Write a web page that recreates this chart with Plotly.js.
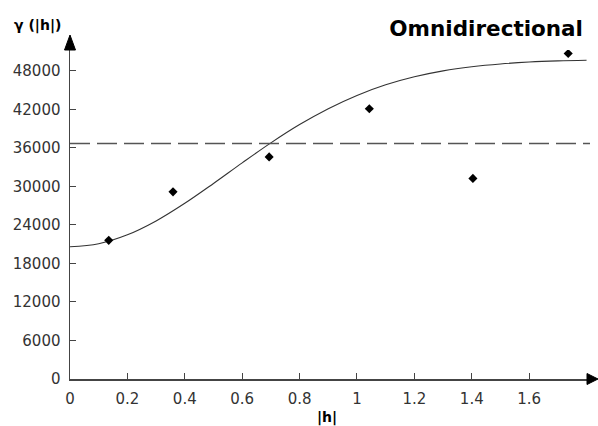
<!DOCTYPE html>
<html>
<head>
<meta charset="utf-8">
<script src="https://cdn.plot.ly/plotly-3.0.1.min.js"></script>
<style>html,body{margin:0;padding:0;background:#fff;}#chart{width:598px;height:426px;}</style>
</head>
<body>
<div id="chart"></div>
<script>
// Experimental semivariogram points (lag |h|, gamma)
const lagH = [0.135, 0.359, 0.694, 1.043, 1.404, 1.736];
const gammaVals = [21600, 29150, 34600, 42100, 31250, 50700];
// Fitted model curve
const modelH = [0, 0.1, 0.2, 0.3, 0.4, 0.5, 0.6, 0.7, 0.8, 0.9, 1.0, 1.1, 1.2, 1.3, 1.4, 1.5, 1.6, 1.7, 1.8];
const modelGamma = [20600, 21080, 22460, 24620, 27370, 30460, 33670, 36780, 39630, 42110, 44180, 45830, 47080, 48000, 48640, 49080, 49370, 49550, 49660];
// Sample variance (dashed line)
const sillValue = 36700;
// Tick labels
const yTicks = [0, 6000, 12000, 18000, 24000, 30000, 36000, 42000, 48000];
const xTicks = [0, 0.2, 0.4, 0.6, 0.8, 1, 1.2, 1.4, 1.6];

const tickFont = {family: 'DejaVu Sans, Arial, sans-serif', size: 15, color: '#333'};
const axisColor = '#444';

const traces = [
  {
    x: modelH, y: modelGamma, mode: 'lines', type: 'scatter',
    line: {color: '#333', width: 1.1, shape: 'spline'},
    hoverinfo: 'skip', showlegend: false
  },
  {
    x: lagH, y: gammaVals, mode: 'markers', type: 'scatter',
    marker: {symbol: 'diamond', size: 7, color: '#000'},
    showlegend: false
  }
];

const layout = {
  width: 598, height: 426,
  margin: {l: 70, r: 8, t: 50, b: 47},
  paper_bgcolor: '#fff', plot_bgcolor: '#fff',
  showlegend: false,
  title: {
    text: '<b>Omnidirectional</b>',
    font: {family: 'DejaVu Sans, Arial, sans-serif', size: 21.5, color: '#000'},
    xref: 'container', yref: 'container',
    x: 583 / 598, xanchor: 'right',
    y: 1 - 28 / 426, yanchor: 'middle'
  },
  xaxis: {
    range: [0, 1.812],
    tickvals: xTicks,
    ticktext: xTicks.map(String),
    ticks: 'inside', ticklen: 6, tickcolor: axisColor, tickwidth: 1,
    ticklabelstandoff: 5,
    showline: true, linecolor: axisColor, linewidth: 1.5,
    showgrid: false, zeroline: false,
    tickfont: tickFont,
    fixedrange: true
  },
  yaxis: {
    range: [0, 51250],
    tickvals: yTicks,
    ticktext: yTicks.map(String),
    ticks: 'inside', ticklen: 6, tickcolor: axisColor, tickwidth: 1,
    ticklabelstandoff: 5,
    showline: true, linecolor: axisColor, linewidth: 1.5,
    showgrid: false, zeroline: false,
    tickfont: tickFont,
    fixedrange: true
  },
  shapes: [
    {
      type: 'line', xref: 'paper', x0: 0, x1: 1, yref: 'y', y0: sillValue, y1: sillValue,
      line: {color: '#555', width: 1.5, dash: '20px,7px'}
    },
    {
      type: 'path', xref: 'paper', xanchor: 1, xsizemode: 'pixel',
      yref: 'paper', yanchor: 0, ysizemode: 'pixel',
      path: 'M -3,5.5 L 8,0 L -3,-5.5 Z',
      fillcolor: '#000', line: {color: '#000', width: 1}
    },
    {
      type: 'path', xref: 'paper', xanchor: 0, xsizemode: 'pixel',
      yref: 'paper', yanchor: 1, ysizemode: 'pixel',
      path: 'M -5.5,0 L 0,15 L 5.5,0 Z',
      fillcolor: '#000', line: {color: '#000', width: 1}
    }
  ],
  annotations: [
    {
      text: '<b>γ (|h|)</b>', xref: 'paper', yref: 'paper',
      x: (37.5 - 70) / 520, y: (379 - 26) / 329,
      xanchor: 'center', yanchor: 'middle', showarrow: false,
      font: {family: 'DejaVu Sans, Arial, sans-serif', size: 14, color: '#000'}
    },
    {
      text: '<b>|h|</b>', xref: 'paper', yref: 'paper',
      x: (327 - 70) / 520, y: (379 - 417) / 329,
      xanchor: 'center', yanchor: 'middle', showarrow: false,
      font: {family: 'DejaVu Sans, Arial, sans-serif', size: 14, color: '#000'}
    }
  ]
};

Plotly.newPlot('chart', traces, layout, {staticPlot: true, displayModeBar: false});
</script>
</body>
</html>
